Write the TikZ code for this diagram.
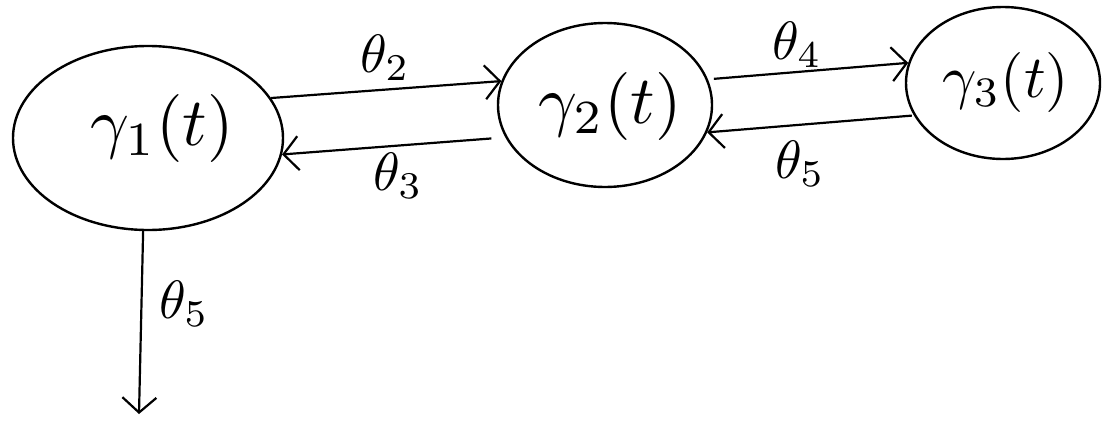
\documentclass[tikz,border=0pt]{standalone}
\usetikzlibrary{shapes.geometric,arrows.meta}
\tikzset{
  state/.style={ellipse, draw, line width=2.4pt, inner sep=0pt},
  flow/.style={line width=2.2pt, -{Straight Barb[length=15pt,width=34pt,line width=2.2pt]}},
  big/.style={scale=6.8, inner sep=0pt},
  rate/.style={scale=5.4, inner sep=0pt}
}
\begin{document}
\begin{tikzpicture}[x=1pt,y=-1pt]
\useasboundingbox (0,0) rectangle (1105,426);
% compartments
\node[state, minimum width=270pt, minimum height=184pt] (g1) at (148,138) {};
\node[state, minimum width=214pt, minimum height=164pt] (g2) at (605,105) {};
\node[state, minimum width=194pt, minimum height=152pt] (g3) at (1003,83) {};
\node[big] (t1) at (162,128) {$\gamma_1(t)$};
\node[big] (t2) at (610,106) {$\gamma_2(t)$};
\node[scale=6, inner sep=0pt] (t3) at (1006,82) {$\gamma_3(t)$};
\coordinate (out) at (139,414);
% flows
\draw[flow] (g1.18) -- (g2.167);
\draw[flow, shorten <=14pt] (g2.198) -- (g1.-7);
\draw[flow, shorten <=6pt] (g2.14) -- (g3.168);
\draw[flow, shorten <=2pt] (g3.200) -- (g2.-15);
\draw[flow] (g1.-93) -- (out);
% labels
\node[rate] (l2) at (385,58) {$\theta_2$};
\node[rate] (l3) at (398,176) {$\theta_3$};
\node[rate] (l4) at (797,45) {$\theta_4$};
\node[rate] (l5a) at (800,164) {$\theta_5$};
\node[rate] (l5b) at (184,304) {$\theta_5$};
\end{tikzpicture}
\end{document}
